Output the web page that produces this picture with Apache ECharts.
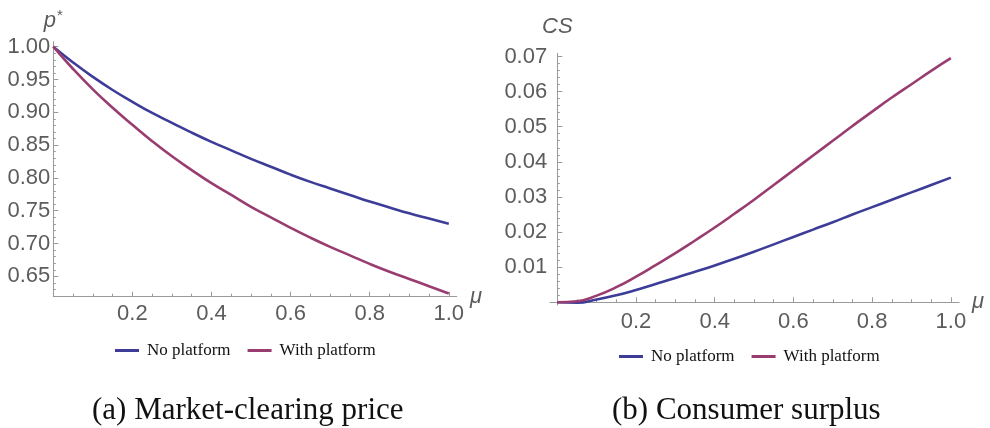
<!DOCTYPE html>
<html>
<head>
<meta charset="utf-8">
<script src="https://cdn.jsdelivr.net/npm/echarts@6/dist/echarts.min.js"></script>
<style>
html,body{margin:0;padding:0;background:#fff;}
#chart{width:990px;height:428px;}
</style>
</head>
<body>
<div id="chart"></div>
<script>
// ---- data ----
const mu = [0,0.05,0.1,0.15,0.2,0.25,0.3,0.35,0.4,0.45,0.5,0.55,0.6,0.65,0.7,0.75,0.8,0.85,0.9,0.95,1.0];
const priceNoPlatform   = [1.000,0.976,0.954,0.934,0.916,0.899,0.884,0.869,0.855,0.842,0.829,0.817,0.805,0.794,0.784,0.774,0.764,0.755,0.746,0.738,0.730];
const priceWithPlatform = [1.000,0.966,0.935,0.907,0.881,0.856,0.833,0.812,0.792,0.774,0.756,0.740,0.724,0.709,0.695,0.682,0.669,0.657,0.646,0.635,0.624];
const csNoPlatform   = [0,-0.0001,0.0008,0.0020,0.0035,0.0052,0.0069,0.0087,0.0105,0.0124,0.0144,0.0165,0.0186,0.0207,0.0228,0.0250,0.0271,0.0292,0.0313,0.0334,0.0355];
const csWithPlatform = [0,0.0003,0.0019,0.0043,0.0073,0.0106,0.0140,0.0176,0.0213,0.0252,0.0292,0.0334,0.0376,0.0418,0.0460,0.0502,0.0543,0.0583,0.0621,0.0659,0.0695];
const seriesNames = ['No platform','With platform'];
const muMajorTicks = [0.2,0.4,0.6,0.8,1.0];
const muMinorTicks = [0.05,0.1,0.15,0.25,0.3,0.35,0.45,0.5,0.55,0.65,0.7,0.75,0.85,0.9,0.95];
const priceMajorTicks = [0.65,0.70,0.75,0.80,0.85,0.90,0.95,1.00];
const priceMinorTicks = [0.62,0.63,0.64,0.66,0.67,0.68,0.69,0.71,0.72,0.73,0.74,0.76,0.77,0.78,0.79,0.81,0.82,0.83,0.84,0.86,0.87,0.88,0.89,0.91,0.92,0.93,0.94,0.96,0.97,0.98,0.99];
const csMajorTicks = [0.01,0.02,0.03,0.04,0.05,0.06,0.07];
const csMinorTicks = [0.002,0.004,0.006,0.008,0.012,0.014,0.016,0.018,0.022,0.024,0.026,0.028,0.032,0.034,0.036,0.038,0.042,0.044,0.046,0.048,0.052,0.054,0.056,0.058,0.062,0.064,0.066,0.068];
const captions = ['(a) Market-clearing price','(b) Consumer surplus'];

// ---- styling ----
const BLUE = '#3d3d99', PURPLE = '#993d71';
const AXIS = '#9a9a9a', LABEL = '#5c5c5c';
const SANS = 'Liberation Sans';
const SERIF = 'Liberation Serif';
const TICK_FONT = 22;

function pairs(xs, ys){ return xs.map((x,i)=>[x, ys[i]]); }

function majorX(grid, min, max, onZero){
  return {
    type:'value', gridIndex:grid, min:min, max:max, position:'bottom',
    name:'μ', nameLocation:'end', nameGap:6,
    nameTextStyle:{fontFamily:SANS, fontStyle:'italic', fontSize:22, color:LABEL, verticalAlign:'middle', padding:[10,0,0,0]},
    axisLine:{show:true, onZero:onZero, onZeroAxisIndex: onZero ? grid*2 : undefined, lineStyle:{color:AXIS, width:1}},
    axisTick:{show:true, inside:true, length:5, customValues:muMajorTicks, lineStyle:{color:AXIS}},
    axisLabel:{show:true, customValues:muMajorTicks, formatter:v=>v.toFixed(1), fontFamily:SANS, fontSize:TICK_FONT, color:LABEL, margin:6},
    splitLine:{show:false}
  };
}
function minorX(grid, min, max, onZero){
  return {
    type:'value', gridIndex:grid, min:min, max:max, position:'bottom',
    axisLine:{show:false, onZero:onZero, onZeroAxisIndex: onZero ? grid*2 : undefined},
    axisTick:{show:true, inside:true, length:3, customValues:muMinorTicks, lineStyle:{color:AXIS}},
    axisLabel:{show:false}, splitLine:{show:false}
  };
}
function majorY(grid, min, max, onZero, ticks, dec, name, gap){
  return {
    type:'value', gridIndex:grid, min:min, max:max, position:'left',
    name:name, nameLocation:'end', nameGap:gap,
    nameTextStyle:{fontFamily:SANS, fontSize:22, color:LABEL, align:'center', verticalAlign:'bottom',
      rich:{i:{fontFamily:SANS, fontStyle:'italic', fontSize:22, color:LABEL},
            s:{fontFamily:SANS, fontSize:15, color:LABEL, verticalAlign:'top', padding:[0,0,10,1]}}},
    axisLine:{show:true, onZero:onZero, onZeroAxisIndex: onZero ? grid*2 : undefined, lineStyle:{color:AXIS, width:1}},
    axisTick:{show:true, inside:true, length:5, customValues:ticks, lineStyle:{color:AXIS}},
    axisLabel:{show:true, customValues:ticks, formatter:v=>v.toFixed(dec), fontFamily:SANS, fontSize:TICK_FONT, color:LABEL, margin:3},
    splitLine:{show:false}
  };
}
function minorY(grid, min, max, onZero, ticks){
  return {
    type:'value', gridIndex:grid, min:min, max:max, position:'left',
    axisLine:{show:false, onZero:onZero, onZeroAxisIndex: onZero ? grid*2 : undefined},
    axisTick:{show:true, inside:true, length:2.5, customValues:ticks, lineStyle:{color:AXIS}},
    axisLabel:{show:false}, splitLine:{show:false}
  };
}
function line(name, color, xi, yi, data){
  return {
    type:'line', name:name, xAxisIndex:xi, yAxisIndex:yi, data:data,
    showSymbol:false, symbol:'none', smooth:true, clip:false,
    lineStyle:{color:color, width:2.6}, itemStyle:{color:color}, emphasis:{disabled:true}
  };
}
function legend(left, top){
  return {
    data:seriesNames, left:left, top:top, padding:0, icon:'rect', itemWidth:24, itemHeight:3, itemGap:17,
    textStyle:{fontFamily:SERIF, fontSize:17, color:'#111', padding:[0,0,0,3]}
  };
}

const chart = echarts.init(document.getElementById('chart'), null, {renderer:'canvas'});
chart.setOption({
  animation:false,
  backgroundColor:'#fff',
  grid:[
    {left:53.3, top:41.7, width:403.4, height:255},
    {left:550.2, top:53.3, width:408.9, height:251.8}
  ],
  xAxis:[
    majorX(0, 0, 1.02, false), minorX(0, 0, 1.02, false),
    majorX(1, -0.018, 1.021, true), minorX(1, -0.018, 1.021, true)
  ],
  yAxis:[
    majorY(0, 0.619, 1.0076, false, priceMajorTicks, 2, '{i|p}{s|*}', 8), minorY(0, 0.619, 1.0076, false, priceMinorTicks),
    majorY(1, -0.0008, 0.0709, true, csMajorTicks, 2, '{i|CS}', 15), minorY(1, -0.0008, 0.0709, true, csMinorTicks)
  ],
  legend:[legend(115, 342), legend(619, 348)],
  title:[
    {text:captions[0], left:92, top:395, padding:0, textStyle:{fontFamily:SERIF, fontSize:31, fontWeight:'normal', color:'#111'}},
    {text:captions[1], left:612, top:395, padding:0, textStyle:{fontFamily:SERIF, fontSize:31, fontWeight:'normal', color:'#111'}}
  ],
  series:[
    line(seriesNames[0], BLUE, 0, 0, pairs(mu, priceNoPlatform)),
    line(seriesNames[1], PURPLE, 0, 0, pairs(mu, priceWithPlatform)),
    line(seriesNames[0], BLUE, 2, 2, pairs(mu, csNoPlatform)),
    line(seriesNames[1], PURPLE, 2, 2, pairs(mu, csWithPlatform))
  ]
});
</script>
</body>
</html>
